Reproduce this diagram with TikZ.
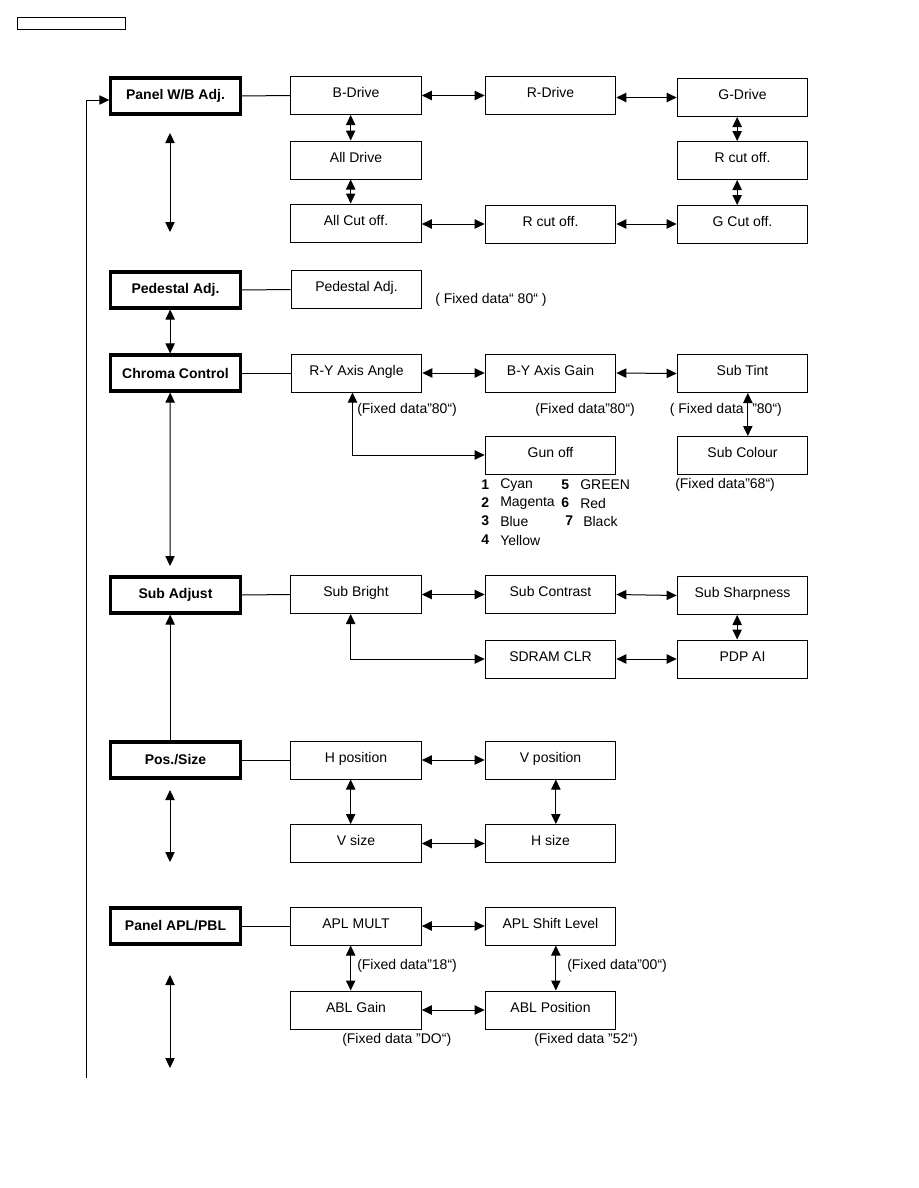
\documentclass[tikz,border=0pt]{standalone}
\usepackage{fontspec}
\setmainfont{Liberation Sans}
\usetikzlibrary{arrows.meta}
\begin{document}
\begin{tikzpicture}[x=0.75pt,y=-0.75pt,
  bx/.style={draw, line width=0.75pt, minimum width=98pt, minimum height=28.5pt, inner sep=0pt,
    text height=8pt, text depth=4.5pt, font=\fontsize{10.5}{12}\selectfont},
  hd/.style={draw, line width=2.3pt, minimum width=97pt, minimum height=27pt, inner sep=0pt,
    font=\fontsize{10.5}{12}\selectfont\bfseries},
  ann/.style={anchor=west, inner sep=0pt, font=\fontsize{10.5}{12}\selectfont},
  num/.style={anchor=west, inner sep=0pt, font=\fontsize{10.5}{12}\selectfont\bfseries},
  ln/.style={line width=0.75pt},
  arr/.style={line width=0.75pt, {Triangle[length=7.5pt,width=7pt]}-{Triangle[length=7.5pt,width=7pt]}},
  arre/.style={line width=0.75pt, -{Triangle[length=7.5pt,width=7pt]}}
]
\useasboundingbox (0,0) rectangle (918,1188);
\node[draw, line width=0.75pt, minimum width=81pt, minimum height=9.5pt, inner sep=0pt] (hdr) at (71,23.5) {};

% Panel W/B
\node[hd] (pw) at (175.5,96) {Panel W/B Adj.};
\node[bx] (bd) at (356,95.5) {B-Drive};
\node[bx] (rd) at (550.5,95.5) {R-Drive};
\node[bx] (gd) at (742.5,97.5) {G-Drive};
\node[bx] (ad) at (356,160) {All Drive};
\node[bx] (rc1) at (742.5,160.5) {R cut off.};
\node[bx] (ac) at (356,223) {All Cut off.};
\node[bx] (rc2) at (550.5,224) {R cut off.};
\node[bx] (gc) at (742.5,224.5) {G Cut off.};
\draw[ln] (pw.east) -- (bd.west);
\draw[arr] (bd.east) -- (rd.west);
\draw[arr] (gd.west -| rd.east) -- (gd.west);
\draw[arr] ([xshift=-4pt]bd.south) -- ([xshift=-4pt]ad.north);
\draw[arr] ([xshift=-4pt]ad.south) -- ([xshift=-4pt]ac.north);
\draw[arr] ([xshift=-4pt]gd.south) -- ([xshift=-4pt]rc1.north);
\draw[arr] ([xshift=-4pt]rc1.south) -- ([xshift=-4pt]gc.north);
\draw[arr] (rc2.west -| ac.east) -- (rc2.west);
\draw[arr] (rc2.east) -- (rc2.east -| gc.west);
\coordinate (w1) at (170,133);
\coordinate (w2) at (170,232);
\draw[arr] (w1) -- (w2);

% Pedestal
\node[hd] (pa) at (175.5,290) {Pedestal Adj.};
\node[bx] (pb) at (356.5,289.5) {Pedestal Adj.};
\draw[ln] (pa.east) -- (pb.west);
\node[ann] (fp) at (435,300) {( Fixed data“ 80“ )};

% Chroma
\node[hd] (cc) at (175.5,373) {Chroma Control};
\node[bx] (ry) at (356.5,373) {R-Y Axis Angle};
\node[bx] (by) at (550.5,373) {B-Y Axis Gain};
\node[bx] (st) at (742.5,373.5) {Sub Tint};
\node[bx] (go) at (550.5,455) {Gun off};
\node[bx] (sc) at (742.5,455.5) {Sub Colour};
\draw[arr] ([xshift=-4pt]pa.south) -- ([xshift=-4pt]cc.north);
\draw[ln] (cc.east) -- (ry.west);
\draw[arr] (ry.east) -- (by.west);
\draw[arr] (by.east) -- (st.west);
\draw[arr] ([xshift=4pt]st.south) -- ([xshift=4pt]sc.north);
\draw[arr] ([xshift=-3pt]ry.south) |- (go.west);
\coordinate (c2) at (170,566);
\draw[arr] ([xshift=-4pt]cc.south) -- (c2);
\node[ann] (f1) at (357,410) {(Fixed data”80“)};
\node[ann] (f2) at (535,410) {(Fixed data”80“)};
\node[ann, anchor=east] (f3a) at (744,410) {( Fixed data};
\node[ann] (f3b) at (752,410) {”80“)};
\node[ann] (f4) at (675,485) {(Fixed data”68“)};
\node[num] (n1) at (481,485) {1};
\node[ann] (t1) at (500,485) {Cyan};
\node[num] (n2) at (481,503) {2};
\node[ann] (t2) at (500,503) {Magenta};
\node[num] (n3) at (481,521) {3};
\node[ann] (t3) at (500,521) {Blue};
\node[num] (n4) at (481,540) {4};
\node[ann] (t4) at (500,540) {Yellow};
\node[num] (n5) at (561,485) {5};
\node[ann] (t5) at (580,485) {GREEN};
\node[num] (n6) at (561,503) {6};
\node[ann] (t6) at (580,503) {Red};
\node[num] (n7) at (565,521) {7};
\node[ann] (t7) at (583,521) {Black};

% Sub adjust
\node[hd] (sa) at (175.5,595) {Sub Adjust};
\node[bx] (sb) at (356,594.5) {Sub Bright};
\node[bx] (sct) at (550.5,594.5) {Sub Contrast};
\node[bx] (ss) at (742.5,595.5) {Sub Sharpness};
\node[bx] (sd) at (550.5,659) {SDRAM CLR};
\node[bx] (pdp) at (742.5,659) {PDP AI};
\draw[ln] (sa.east) -- (sb.west);
\draw[arr] (sb.east) -- (sct.west);
\draw[arr] (sct.east) -- (ss.west);
\draw[arr] ([xshift=-4pt]ss.south) -- ([xshift=-4pt]pdp.north);
\draw[arr] (sd.east) -- (pdp.west);
\draw[arr] ([xshift=-4pt]sb.south) |- (sd.west);

% Pos/Size
\node[hd] (ps) at (175.5,760) {Pos./Size};
\node[bx] (hp) at (356,760) {H position};
\node[bx] (vp) at (550.5,760) {V position};
\node[bx] (vs) at (356,843.5) {V size};
\node[bx] (hs) at (550.5,843.5) {H size};
\draw[arre] ([xshift=-4pt]ps.north) -- ([xshift=-4pt]sa.south);
\draw[ln] (ps.east) -- (hp.west);
\draw[arr] (hp.east) -- (vp.west);
\draw[arr] (vs.east) -- (hs.west);
\draw[arr] ([xshift=-4pt]hp.south) -- ([xshift=-4pt]vs.north);
\draw[arr] ([xshift=4pt]vp.south) -- ([xshift=4pt]hs.north);
\coordinate (p1) at (170,790);
\coordinate (p2) at (170,862);
\draw[arr] (p1) -- (p2);

% APL
\node[hd] (ap) at (175.5,926) {Panel APL/PBL};
\node[bx] (am) at (356,926) {APL MULT};
\node[bx] (as) at (550.5,926) {APL Shift Level};
\node[bx] (ag) at (356,1010) {ABL Gain};
\node[bx] (abp) at (550.5,1010) {ABL Position};
\draw[ln] (ap.east) -- (am.west);
\draw[arr] (am.east) -- (as.west);
\draw[arr] (ag.east) -- (abp.west);
\draw[arr] ([xshift=-4pt]am.south) -- ([xshift=-4pt]ag.north);
\draw[arr] ([xshift=4pt]as.south) -- ([xshift=4pt]abp.north);
\node[ann] (f5) at (357,966) {(Fixed data”18“)};
\node[ann] (f6) at (567,966) {(Fixed data”00“)};
\node[ann] (f7) at (342,1040) {(Fixed data ”DO“)};
\node[ann] (f8) at (534,1040) {(Fixed data ”52“)};
\coordinate (a1) at (170,975);
\coordinate (a2) at (170,1068);
\draw[arr] (a1) -- (a2);

% feedback
\coordinate (fb0) at (86,1078);
\draw[arre] (fb0) |- ([yshift=-3pt]pw.west);
\end{tikzpicture}
\end{document}
